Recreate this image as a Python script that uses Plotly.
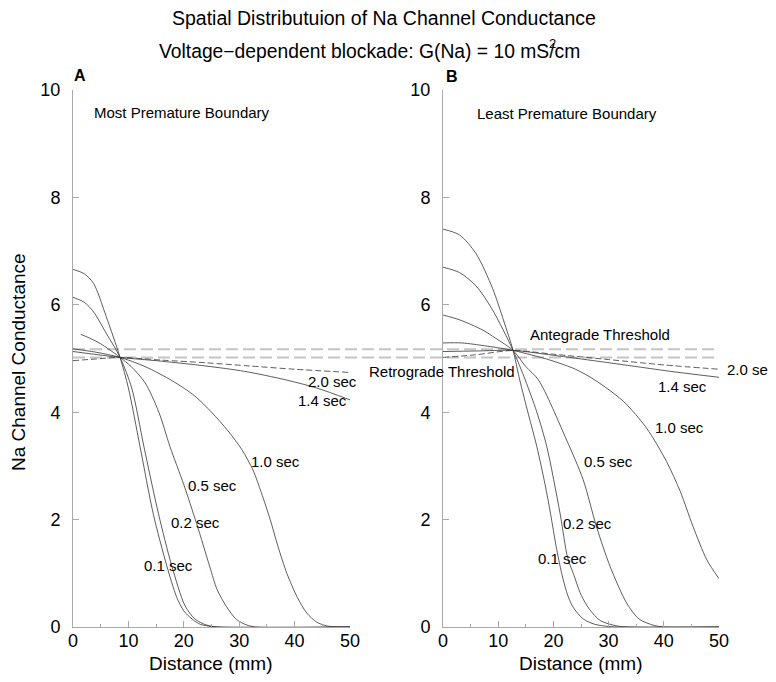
import plotly.graph_objects as go

# ---------------- data ----------------
# Panel A: Most Premature Boundary  (distance mm, conductance)
a01_x = [0, 2, 3.7, 6, 8.5, 10, 12.1, 14.5, 16.9, 18.7, 20, 21.7, 23, 25, 27, 50]
a01_y = [6.66, 6.58, 6.40, 5.78, 5.02, 4.45, 3.36, 2.10, 1.15, 0.56, 0.30, 0.13, 0.05, 0.01, 0, 0]
a02_x = [0, 2, 3.7, 6, 8.5, 10.6, 12.8, 15.4, 17.8, 20.2, 22, 24, 26, 50]
a02_y = [6.14, 6.05, 5.87, 5.47, 5.02, 4.45, 3.36, 2.12, 1.15, 0.40, 0.15, 0.04, 0, 0]
a05_x = [1.4, 3, 4.9, 6.5, 8.5, 10.5, 13, 15.5, 17.5, 20, 22.3, 24.7, 26, 27.7, 29.5, 31.3, 33, 50]
a05_y = [5.45, 5.38, 5.28, 5.17, 5.02, 4.85, 4.55, 4.00, 3.36, 2.65, 1.93, 1.12, 0.70, 0.38, 0.14, 0.04, 0, 0]
a10_x = [0, 4, 8.5, 13, 18, 22, 25, 28, 30.5, 32.5, 34, 35.6, 37, 38.6, 40.5, 42.2, 44, 45.8, 48, 50]
a10_y = [5.18, 5.12, 5.02, 4.85, 4.58, 4.30, 4.00, 3.65, 3.30, 2.92, 2.50, 2.00, 1.50, 1.00, 0.55, 0.26, 0.09, 0.02, 0, 0]
a14_x = [0, 8.5, 16, 24, 31, 38.5, 44, 50]
a14_y = [5.13, 5.02, 4.95, 4.86, 4.76, 4.60, 4.45, 4.23]
a20_x = [0, 4, 8.5, 16, 24, 32, 40, 50]
a20_y = [4.96, 4.99, 5.02, 4.97, 4.92, 4.86, 4.80, 4.74]

# Panel B: Least Premature Boundary
b01_x = [0, 3, 6, 9, 11, 12.7, 13.9, 15.5, 17, 18.5, 19.5, 20.5, 21.5, 22.5, 23.5, 25.4, 27.5, 30, 32, 50]
b01_y = [7.41, 7.30, 6.95, 6.30, 5.70, 5.15, 4.60, 3.95, 3.36, 2.65, 2.10, 1.50, 1.00, 0.62, 0.38, 0.15, 0.05, 0.01, 0, 0]
b02_x = [0, 3, 6, 9, 12.7, 14.9, 17, 18.8, 21.2, 22.6, 23.6, 25, 26.6, 28.5, 31.5, 34, 50]
b02_y = [6.70, 6.60, 6.35, 5.90, 5.15, 4.60, 4.00, 3.36, 2.12, 1.28, 1.00, 0.60, 0.32, 0.12, 0.02, 0, 0]
b05_x = [0, 3, 7.2, 9.5, 12.7, 15, 17.3, 22.4, 25.4, 27.8, 30.3, 33.3, 35.5, 38.2, 40, 50]
b05_y = [5.81, 5.72, 5.53, 5.38, 5.15, 4.85, 4.60, 3.48, 2.74, 1.87, 1.12, 0.44, 0.15, 0.03, 0, 0]
b10_x = [0, 3.4, 8, 12.7, 19.4, 24, 27.5, 32.7, 36.9, 40.5, 43, 45.3, 47.8, 50]
b10_y = [5.29, 5.29, 5.23, 5.15, 4.97, 4.80, 4.60, 4.20, 3.70, 3.08, 2.52, 1.87, 1.25, 0.90]
b14_x = [0, 6, 12.7, 20, 28, 35, 42, 50]
b14_y = [5.13, 5.14, 5.15, 5.06, 4.95, 4.85, 4.75, 4.65]
b20_x = [0, 6, 12.7, 20, 30, 40, 50]
b20_y = [5.02, 5.07, 5.15, 5.08, 4.98, 4.88, 4.80]

antegrade_threshold = 5.17
retrograde_threshold = 5.02

time_labels = ["0.1 sec", "0.2 sec", "0.5 sec", "1.0 sec", "1.4 sec", "2.0 sec"]
label_pos_a = [(17.3, 1.15), (22.1, 1.94), (25.1, 2.64), (36.6, 3.09), (45.1, 4.21), (46.8, 4.58)]
label_pos_b = [(21.6, 1.28), (26.1, 1.93), (30.0, 3.08), (42.8, 3.71), (43.3, 4.47), (55.8, 4.79)]

x_ticks = [0, 10, 20, 30, 40, 50]
y_ticks = [0, 2, 4, 6, 8, 10]

# ---------------- figure ----------------
W, H = 776, 682
OFF = 8  # page body margin
FONT = "Liberation Sans, Arial, sans-serif"
fig = go.Figure()

def px_x(p):
    return (p - OFF) / W

def px_y(p):
    return 1 - (p - OFF) / H

curves_a = [(a01_x, a01_y), (a02_x, a02_y), (a05_x, a05_y), (a10_x, a10_y), (a14_x, a14_y), (a20_x, a20_y)]
curves_b = [(b01_x, b01_y), (b02_x, b02_y), (b05_x, b05_y), (b10_x, b10_y), (b14_x, b14_y), (b20_x, b20_y)]

for axx, axy, curves in [("x", "y", curves_a), ("x2", "y2", curves_b)]:
    for i, (xs, ys) in enumerate(curves):
        fig.add_trace(go.Scatter(x=xs, y=ys, mode="lines", xaxis=axx, yaxis=axy,
                                 line=dict(color="#333333", width=0.8, shape="spline", smoothing=0.8,
                                           dash="6px,3px" if i == 5 else "solid"),
                                 showlegend=False, hoverinfo="skip"))

axis_common = dict(showgrid=False, zeroline=False, showline=True, linecolor="#a8a8a8", linewidth=1,
                   ticks="inside", tickcolor="#a8a8a8", tickwidth=1,
                   tickfont=dict(family=FONT, size=18, color="black"), automargin=False)

xdomA = [px_x(73), px_x(350)]
xdomB = [px_x(443), px_x(719)]
ydom = [px_y(627), px_y(90)]

minor = dict(dtick=5, ticks="inside", ticklen=3, tickcolor="#a8a8a8")
fig.update_layout(
    width=W, height=H, margin=dict(l=0, r=0, t=0, b=0),
    paper_bgcolor="white", plot_bgcolor="white", showlegend=False,
    xaxis=dict(domain=xdomA, range=[0, 50], anchor="y", tickvals=x_ticks, ticklen=6,
               ticklabelstandoff=-3, minor=minor, **axis_common),
    yaxis=dict(domain=ydom, range=[0, 10], anchor="x", tickvals=y_ticks, ticklen=6,
               ticklabelstandoff=8, **axis_common),
    xaxis2=dict(domain=xdomB, range=[0, 50], anchor="y2", tickvals=x_ticks, ticklen=6,
                ticklabelstandoff=-3, minor=minor, **axis_common),
    yaxis2=dict(domain=ydom, range=[0, 10], anchor="x2", tickvals=y_ticks, ticklen=6,
                ticklabelstandoff=8, **axis_common),
)

# threshold lines spanning both panels
for thr in [antegrade_threshold, retrograde_threshold]:
    fig.add_shape(type="line", xref="paper", yref="y", x0=px_x(73), x1=px_x(719), y0=thr, y1=thr,
                  line=dict(color="#c4c4c4", width=2, dash="12px,5px"), layer="below")

def ann(text, x, y, xref, yref, size=15, bold=False, angle=0, xanchor="center"):
    fig.add_annotation(text=f"<b>{text}</b>" if bold else text, x=x, y=y, xref=xref, yref=yref,
                       showarrow=False, textangle=angle, xanchor=xanchor, yanchor="middle",
                       font=dict(family=FONT, size=size, color="black"))

# data coords -> paper coords (for labels lying outside an axis range)
def data_to_paper(xv, yv, xdom):
    return (xdom[0] + (xdom[1] - xdom[0]) * xv / 50.0,
            ydom[0] + (ydom[1] - ydom[0]) * yv / 10.0)

for t, (x, y) in zip(time_labels, label_pos_a):
    ann(t, x, y, "x", "y")
for t, (x, y) in zip(time_labels, label_pos_b):
    if 0 <= x <= 50:
        ann(t, x, y, "x2", "y2")
    else:
        px, py = data_to_paper(x, y, xdomB)
        ann(t, px, py, "paper", "paper")

ann("Antegrade Threshold", 28.4, 5.44, "x2", "y2")
rx, ry = data_to_paper(-0.2, 4.75, xdomB)
ann("Retrograde Threshold", rx, ry, "paper", "paper")
ann("Most Premature Boundary", 19.7, 9.59, "x", "y")
ann("Least Premature Boundary", 22.5, 9.57, "x2", "y2")

ann("Spatial Distributuion of Na Channel Conductance", px_x(384), px_y(18), "paper", "paper", size=19.5)
ann("Voltage\u2212dependent blockade: G(Na) = 10 mS/cm", px_x(369), px_y(52), "paper", "paper", size=19.3)
ann("2", px_x(552), px_y(44), "paper", "paper", size=13)
ann("A", px_x(80), px_y(75), "paper", "paper", size=16, bold=True)
ann("B", px_x(452), px_y(76), "paper", "paper", size=16, bold=True)
ann("Na Channel Conductance", px_x(18), px_y(362), "paper", "paper", size=19, angle=-90)
ann("Distance (mm)", px_x(211), px_y(663), "paper", "paper", size=19)
ann("Distance (mm)", px_x(581), px_y(663), "paper", "paper", size=19)

fig.write_html("out.html")
